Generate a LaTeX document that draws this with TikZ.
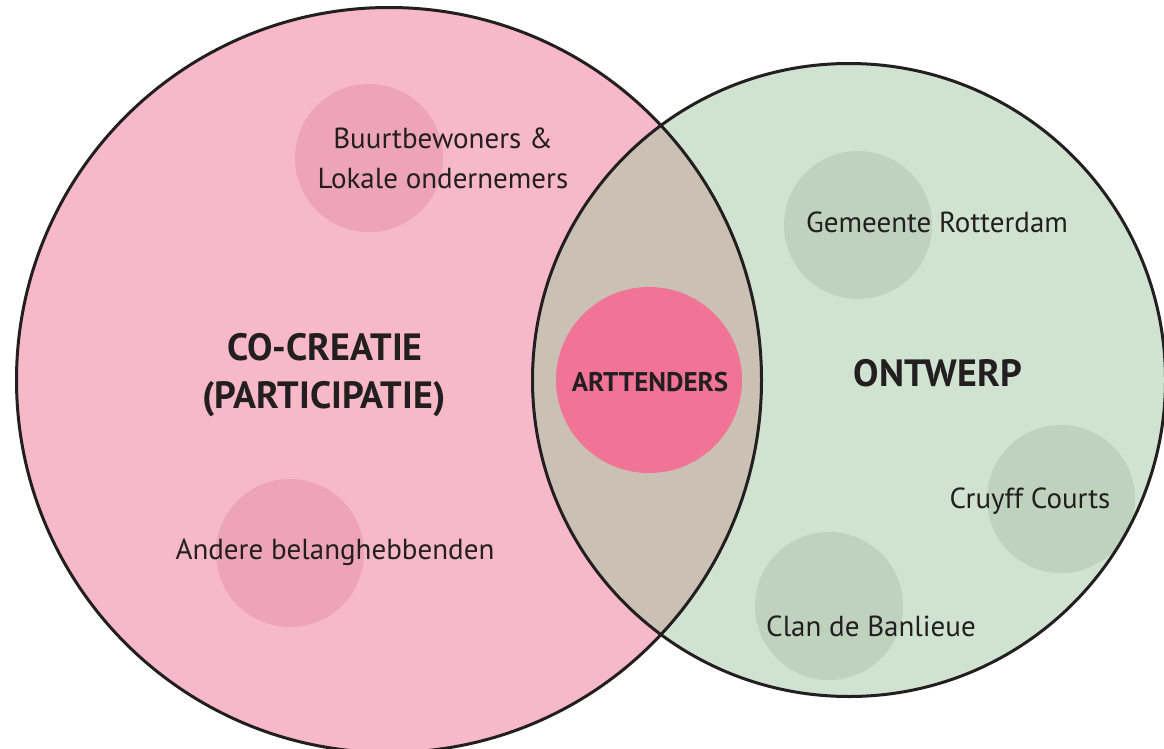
\documentclass[tikz,border=0pt]{standalone}
\usepackage{fontspec}
\setmainfont{PT Sans}
\definecolor{pinkbg}{HTML}{F7B8C9}
\definecolor{pinksub}{HTML}{EDA3B9}
\definecolor{greenbg}{HTML}{D0E3D0}
\definecolor{greensub}{HTML}{BED2BE}
\definecolor{lens}{HTML}{CBC0B4}
\definecolor{core}{HTML}{F17396}
\definecolor{ink}{HTML}{231F20}
\begin{document}
\begin{tikzpicture}[x=1pt,y=-1pt,
  lbl/.style={text=ink,font=\fontsize{29}{34}\selectfont,anchor=base,inner sep=0pt},
  big/.style={text=ink,font=\fontsize{38}{46}\selectfont\bfseries,anchor=base,inner sep=0pt},
  sub/.style={circle,minimum size=148pt,inner sep=0pt,draw=none}]
\useasboundingbox (0,0) rectangle (1164,749);
\begin{scope}
\clip (0,0) rectangle (1164,749);
% main circles
\fill[pinkbg] (389,380) circle[radius=372.5];
\fill[greenbg] (849,380) circle[radius=316.5];
\begin{scope}
\clip (389,380) circle[radius=372.5];
\fill[lens] (849,380) circle[radius=316.5];
\end{scope}
% sub circles
\node[sub,fill=pinksub] (c1) at (369,158) {};
\node[sub,fill=pinksub] (c2) at (290,553) {};
\node[sub,fill=greensub] (c3) at (858,225) {};
\node[sub,fill=greensub] (c4) at (1061,499) {};
\node[sub,fill=greensub] (c5) at (829,606) {};
\node[circle,minimum size=186pt,inner sep=0pt,fill=core] (core) at (649,380) {};
% outlines
\draw[ink,line width=3pt] (389,380) circle[radius=372.5];
\draw[ink,line width=3pt] (849,380) circle[radius=316.5];
\end{scope}
% labels
\node[lbl] (t1a) at (443,148) {Buurtbewoners \&};
\node[lbl] (t1b) at (443,188) {Lokale ondernemers};
\node[lbl] (t2) at (335,559) {Andere belanghebbenden};
\node[lbl] (t3) at (937,232) {Gemeente Rotterdam};
\node[lbl] (t4) at (1030,508) {Cruyff Courts};
\node[lbl] (t5) at (871,636) {Clan de Banlieue};
\node[big] (h1) at (325,360) {CO-CREATIE};
\node[big] (h2) at (324,408) {(PARTICIPATIE)};
\node[big] (h3) at (938,386) {ONTWERP};
\node[text=ink,font=\fontsize{27}{32}\selectfont\bfseries,anchor=base,inner sep=0pt] (h4) at (650,391) {ARTTENDERS};
\end{tikzpicture}
\end{document}
